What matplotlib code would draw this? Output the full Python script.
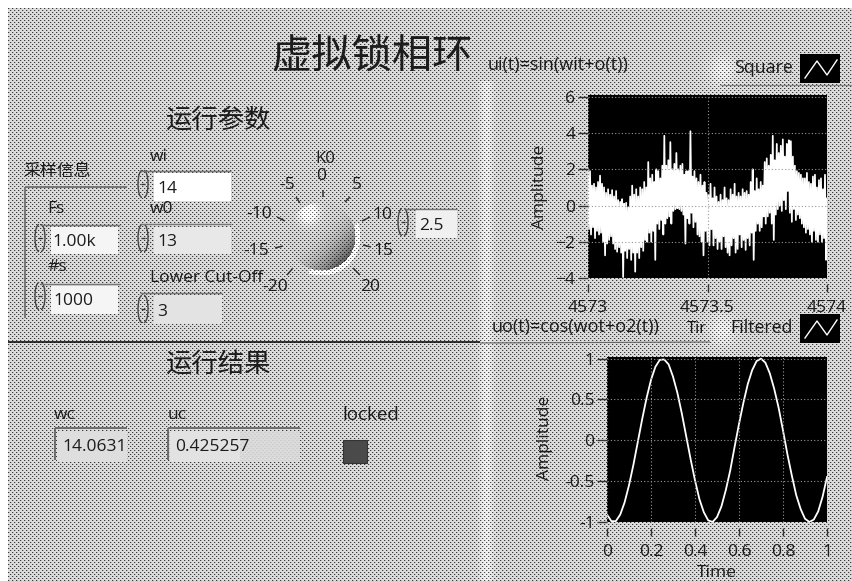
import numpy as np
import matplotlib
matplotlib.use("Agg")
import matplotlib.pyplot as plt
from matplotlib.patches import Rectangle, Arc

plt.rcParams['font.family'] = ['Open Sans', 'Noto Sans CJK SC', 'DejaVu Sans']
TXT = '#1c1c1c'

# ---- data ----
noise_high = [2.0,1.9,1.1,1.2,1.0,1.3,1.65,1.2,1.0,0.7,
              0.9,0.6,0.85,0.5,0.8,0.3,0.2,0.35,0.1,0.15,
              -0.1,0.5,1.1,0.6,0.9,0.5,1.0,0.9,1.3,1.0,
              2.4,1.5,1.7,1.3,2.0,1.9,1.5,2.2,3.85,2.2,
              2.5,3.5,2.0,2.3,2.9,2.0,2.2,2.3,1.7,1.9,
              1.9,4.1,1.6,1.9,1.5,1.3,1.7,1.1,1.3,0.7,
              0.6,1.2,0.4,1.0,0.5,0.2,0.6,0.3,1.0,0.4,
              0.3,0.9,0.6,1.2,0.5,0.7,0.5,0.9,0.7,0.8,
              0.6,1.3,2.0,0.8,1.5,0.9,1.3,1.1,2.4,2.6,
              2.2,2.8,3.85,2.5,3.4,2.9,3.3,3.65,2.7,3.4,
              3.6,3.55,2.7,2.2,1.9,1.8,1.7,1.5,1.5,1.8,
              1.3,1.2,1.6,1.7,1.0,1.4,1.5,0.9,1.7,0.4]
noise_low = [-1.3,-1.6,-1.2,-1.8,-1.4,-1.6,-1.5,-2.0,-2.75,-2.1,
             -1.9,-1.7,-2.1,-2.4,-2.55,-2.3,-2.6,-3.95,-2.5,-2.9,
             -2.4,-3.0,-2.6,-3.65,-2.6,-2.9,-2.3,-2.5,-1.9,-2.0,
             -1.5,-2.0,-1.4,-3.0,-1.0,-1.3,-0.8,-1.6,-1.0,-0.7,
             -0.6,-1.0,-0.3,-0.2,-0.15,-0.2,-0.3,-0.5,-2.1,-0.7,
             -1.0,-0.4,-1.2,-0.9,-1.6,-1.7,-2.0,-2.75,-1.4,-2.0,
             -2.2,-1.3,-2.2,-1.8,-2.4,-2.0,-2.4,-1.7,-2.3,-2.6,
             -2.75,-2.2,-1.8,-2.6,-2.4,-1.6,-2.3,-1.9,-2.45,-1.8,
             -2.2,-1.5,-3.0,-1.4,-1.0,-1.4,-1.2,-0.6,-1.0,-0.6,
             -0.4,-1.0,-1.9,-0.5,-0.2,0.0,-0.3,0.3,-0.2,0.8,
             -0.4,-0.9,-0.2,-0.8,-0.5,-0.7,-1.0,-1.2,-1.5,-1.3,
             -1.6,-2.0,-1.4,-1.9,-2.0,-1.6,-2.0,-1.8,-3.0,-2.0]
filtered_time = [0,.02,.04,.06,.08,.10,.12,.14,.16,.18,.20,.22,.24,.26,.28,.30,.32,.34,.36,.38,
                 .40,.42,.44,.46,.48,.50,.52,.54,.56,.58,.60,.62,.64,.66,.68,.70,.72,.74,.76,.78,
                 .80,.82,.84,.86,.88,.90,.92,.94,.96,.98,1.0]
filtered_amp = [-.91,-.99,-.99,-.91,-.76,-.55,-.30,-.02,.26,.52,.74,.90,.985,.99,.93,.78,.58,.33,.05,-.23,
                -.49,-.72,-.88,-.98,-1.0,-.94,-.81,-.61,-.37,-.08,.2,.46,.69,.86,.97,1.0,.95,.82,.63,.4,
                .12,-.17,-.43,-.67,-.84,-.96,-1.0,-.97,-.87,-.69,-.45]
noise_xticks = [4573, 4573.5, 4574]
noise_xlabels = ['4573', '4573.5', '4574']
noise_yticks = [-4, -2, 0, 2, 4, 6]
filt_xticks = [0, .2, .4, .6, .8, 1]
filt_xlabels = ['0', '0.2', '0.4', '0.6', '0.8', '1']
filt_yticks = [-1, -.5, 0, .5, 1]
filt_ylabels = ['-1', '-0.5', '0', '0.5', '1']
knob_labels = [('-20',275,285),('-15',256,249),('-10',259,212),('-5',287,183),('0',321,174),
               ('5',357,183),('10',382,213),('15',383,249),('20',370,285)]
knob_ticks = [((287,275),(293,268)),((275,248),(283,246)),((277,217),(285,221)),((296,197),(300,203)),
              ((323,190),(323,197)),((345,202),(350,197)),((362,221),(370,217)),((363,245),(371,247)),
              ((353,268),(360,275))]

W, H = 852, 581
fig = plt.figure(figsize=(W/100, H/100), dpi=100, facecolor='white')
bg = fig.add_axes([0, 0, 1, 1], zorder=0)
bg.set_xlim(0, W); bg.set_ylim(H, 0); bg.axis('off')

# halftone panel texture with shading
yy, xx = np.mgrid[0:H, 0:W]
tex = np.full((H, W), 219.0)
tex[((xx % 4 == 0) & (yy % 4 == 0)) | ((xx % 4 == 2) & (yy % 4 == 2))] = 55
tex[((xx % 4 == 1) & (yy % 4 == 0)) | ((xx % 4 == 3) & (yy % 4 == 2))] = 178
add = np.zeros((H, W))
mul = np.ones((H, W))
def bump(cx, cy, sx, sy, a):
    return a*np.exp(-((xx-cx)/sx)**2 - ((yy-cy)/sy)**2)
add += 22*np.exp(-((xx-486)/7.0)**2)*(yy > 80)
add += bump(722, 70, 14, 16, 25) + bump(722, 330, 14, 16, 25)
# knob
kx, ky, kr = 321, 236, 34
d = np.hypot(xx-kx, yy-ky)
ring = (d > kr) & (d < kr+5) & ((xx-kx)+(yy-ky) > 22)
add[ring] += 40
inside = d <= kr
shade = 1.0 - 0.55*np.clip(((xx-kx+6)+(yy-ky+8))/(1.4*kr+14), 0, 1)**2
mul[inside] = shade[inside]*0.98
add += bump(308, 212, 10, 11, 60)*inside
tex = np.clip(tex*mul + add, 0, 255)
# boxes (white fields)
def field(x0, x1, y0, y1, v=255):
    t = tex[y0:y1, x0:x1]
    tex[y0:y1, x0:x1] = np.maximum(t, v)
field(154, 231, 173, 201)
field(51, 118, 227, 254, 245)
field(51, 118, 286, 314, 245)
field(154, 231, 227, 254, 232)
field(154, 222, 295, 324, 228)
field(416, 457, 210, 238, 240)
field(57, 127, 431, 462, 222)
field(170, 240, 431, 462, 226)
field(240, 300, 431, 462, 205)
tex[:8, :] = 255; tex[:, :8] = 255
bg.imshow(tex, cmap='gray', vmin=0, vmax=255, extent=(0, W, H, 0), interpolation='nearest',
          aspect='auto', zorder=0)

def T(x, y, s, size=12.5, ha='left', **k):
    dy = 0 if k.get('rotation') else 2
    bg.text(x, y+dy, s, fontsize=size, ha=ha, va='center', color=TXT, zorder=5, **k)
def L(x0, y0, x1, y1, c='#333333', lw=1.0, **k):
    bg.plot([x0, x1], [y0, y1], color=c, lw=lw, zorder=4, solid_capstyle='butt', **k)

T(372, 55, '虚拟锁相环', 29, ha='center')
T(218, 119, '运行参数', 19, ha='center')
T(218, 363, '运行结果', 19, ha='center')
T(23, 170, '采样信息', 12.2)
for x, y, s in [(150,155,'wi'),(150,207,'w0'),(150,276,'Lower Cut-Off'),(47,207,'Fs'),(47,265,'#s'),
                (54,413,'wc'),(168,413,'uc')]:
    T(x, y, s, 12.5)
T(342, 413, 'locked', 13.5)
T(325, 157, 'K0', 12, ha='center')
for x, y, s in [(157,187,'14'),(157,240,'13'),(157,310,'3'),(52,240,'1.00k'),(53,299,'1000'),
                (419,224,'2.5'),(62,445,'14.0631'),(175,445,'0.425257')]:
    T(x, y, s, 12.5)
for s, x, y in knob_labels:
    T(x, y, s, 12.5, ha='center')
for (a, b) in knob_ticks:
    L(a[0], a[1], b[0], b[1], lw=1.1)

# spinners
for x, y in [(143,184),(143,238),(143,309),(40,238),(40,296),(403,222)]:
    bg.add_patch(Arc((x-1, y), 8, 27, theta1=90, theta2=270, color='#444444', lw=1, zorder=4))
    bg.add_patch(Arc((x+1, y), 8, 27, theta1=-90, theta2=90, color='#444444', lw=1, zorder=4))
    L(x-2, y, x+2, y, lw=1)
# field frames
for x0, x1, y in [(140,231,171),(140,231,224),(140,222,293),(40,120,225),(40,120,284),(405,457,209)]:
    L(x0, y, x1, y, c='#777777', lw=1)
L(25, 187, 127, 187, c='#777777', lw=1.4)
L(25, 187, 25, 318, c='#777777', lw=1.4)
L(55, 428, 127, 428, c='#666666', lw=1.3); L(55, 428, 55, 460, c='#666666', lw=1.3)
L(168, 428, 300, 428, c='#666666', lw=1.3); L(168, 428, 168, 460, c='#666666', lw=1.3)
bg.add_patch(Rectangle((343, 440), 24, 23, fc='#4a4a4a', ec='#333333', lw=0.8, zorder=4))
# separators
L(8, 342, 480, 342, c='#111111', lw=1.2)
L(480, 343, 710, 342, c='#666666', lw=0.8)
L(720, 85, 852, 85, c='#888888', lw=0.8)

T(488, 63, 'ui(t)=sin(wit+o(t))', 13)
T(492, 325, 'uo(t)=cos(wot+o2(t))', 13)
T(687, 327, 'Tir', 12)
T(793, 66, 'Square', 12.8, ha='right')
T(793, 326, 'Filtered', 12.8, ha='right')
for y0 in (54, 314):
    bg.add_patch(Rectangle((800, y0), 40, 29, fc='black', ec='none', zorder=4))
    bg.plot([805, 817, 827, 837], [y0+24, y0+7, y0+21, y0+6], color='white', lw=1, zorder=5)

def plot_axes(x0, x1, y0, y1):
    ax = fig.add_axes([x0/W, 1-y1/H, (x1-x0)/W, (y1-y0)/H], zorder=2, facecolor='black')
    for s in ['top', 'right', 'left']:
        ax.spines[s].set_visible(False)
    ax.spines['bottom'].set_position(('outward', 4))
    ax.spines['bottom'].set_visible(False)
    ax.tick_params(axis='y', length=7, width=1, color='#333333', pad=2, labelsize=12.6, labelcolor=TXT)
    ax.tick_params(axis='x', length=6, width=1, color='#333333', pad=6, labelsize=12.6, labelcolor=TXT)
    ax.grid(True, color='#999999', lw=0.8, ls=(0, (1, 2)))
    ax.set_axisbelow(False)
    return ax

a1 = plot_axes(588, 827, 95, 278)
t1 = np.linspace(4573, 4574, len(noise_high))
xs = np.ravel(np.column_stack([t1, t1 + (t1[1]-t1[0])/2]))
ys = np.ravel(np.column_stack([noise_high, noise_low]))
a1.plot(xs, ys, color='white', lw=1.25, zorder=1.5)
a1.set_xlim(4573, 4574); a1.set_ylim(-4, 6.1)
a1.set_xticks(noise_xticks, noise_xlabels)
a1.set_yticks(noise_yticks)
T(540, 187, 'Amplitude', 12.5, ha='center', rotation=90)

a2 = plot_axes(607, 827, 357, 522)
a2.plot(filtered_time, filtered_amp, color='white', lw=1.3, zorder=1.5)
a2.set_xlim(0, 1); a2.set_ylim(-1, 1.02)
a2.set_xticks(filt_xticks, filt_xlabels)
a2.set_yticks(filt_yticks, filt_ylabels)
T(545, 438, 'Amplitude', 12.5, ha='center', rotation=90)
T(717, 571, 'Time', 12.5, ha='center')

fig.savefig('out.png', dpi=100)
